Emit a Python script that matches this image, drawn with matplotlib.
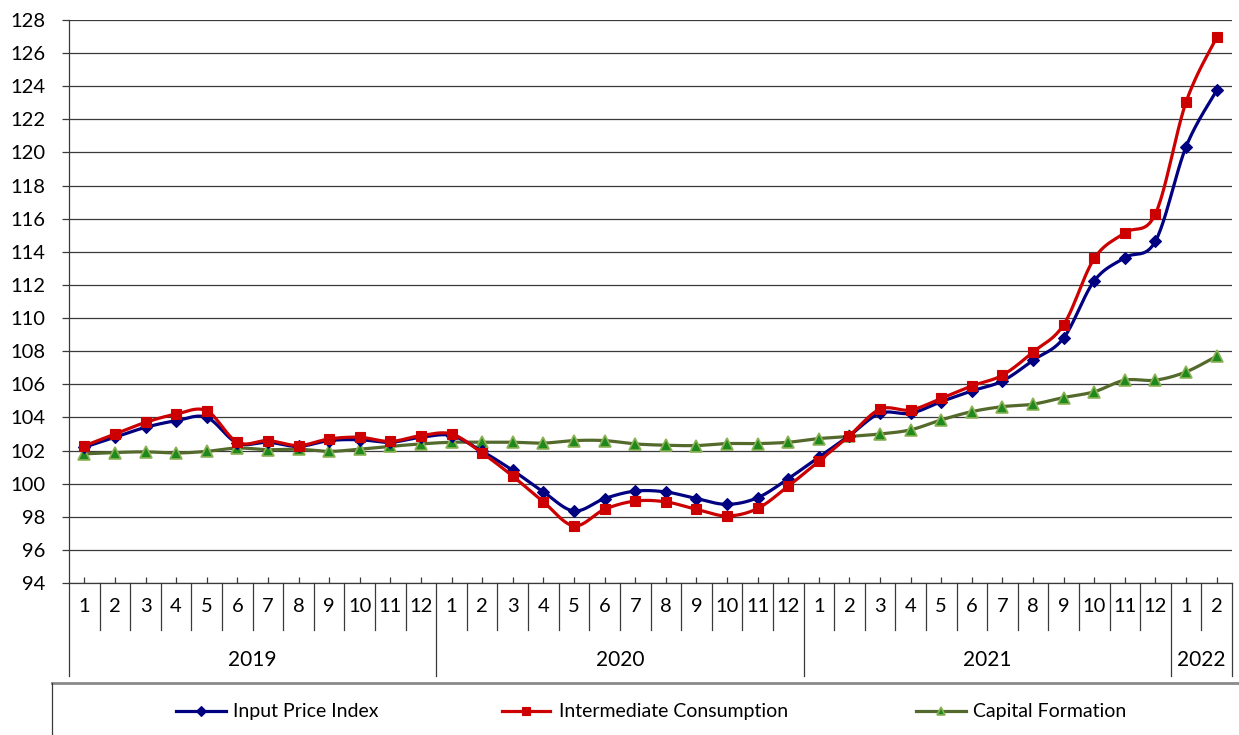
import numpy as np
import matplotlib
matplotlib.use('Agg')
import matplotlib.pyplot as plt
from matplotlib.lines import Line2D

# ---------------- data ----------------
months = [str(m) for m in range(1, 13)] * 3 + ['1', '2']
years = ['2019', '2020', '2021', '2022']
year_counts = [12, 12, 12, 2]

input_price = [102.2, 102.8, 103.4, 103.8, 104.0, 102.45, 102.5, 102.25, 102.6, 102.65, 102.5, 102.8,
               102.9, 101.95, 100.8, 99.5, 98.35, 99.1, 99.55, 99.5, 99.1, 98.75, 99.15, 100.3,
               101.6, 102.9, 104.25, 104.25, 104.95, 105.6, 106.2, 107.45, 108.8, 112.25, 113.65, 114.65,
               120.35, 123.75]
intermediate = [102.28, 103.0, 103.7, 104.2, 104.4, 102.5, 102.6, 102.3, 102.7, 102.8, 102.55, 102.9,
                103.0, 101.85, 100.45, 98.9, 97.45, 98.45, 98.95, 98.9, 98.45, 98.05, 98.5, 99.85,
                101.35, 102.9, 104.5, 104.45, 105.15, 105.9, 106.55, 107.95, 109.6, 113.6, 115.15, 116.3,
                123.05, 126.95]
capital = [101.8, 101.88, 101.92, 101.85, 101.95, 102.15, 102.05, 102.08, 101.95, 102.08, 102.25, 102.4,
           102.5, 102.5, 102.5, 102.45, 102.6, 102.6, 102.4, 102.32, 102.3, 102.42, 102.42, 102.5,
           102.72, 102.85, 103.0, 103.25, 103.85, 104.35, 104.65, 104.8, 105.2, 105.55, 106.25, 106.25,
           106.75, 107.7]
series_names = ['Input Price Index', 'Intermediate Consumption', 'Capital Formation']
y_ticks = list(range(94, 129, 2))

FONT = 'Lato'
W, H = 1239, 735


def smooth(ys, n=24):
    """Catmull-Rom style Bezier smoothing through all points (Excel-like)."""
    pts = np.column_stack([np.arange(len(ys), dtype=float), np.asarray(ys, float)])
    out = []
    t = np.linspace(0, 1, n)[:, None]
    for i in range(len(pts) - 1):
        p0 = pts[i - 1] if i > 0 else pts[i]
        p1 = pts[i]
        p2 = pts[i + 1]
        p3 = pts[i + 2] if i + 2 < len(pts) else pts[i + 1]
        c1 = p1 + (p2 - p0) / 6.0
        c2 = p2 - (p3 - p1) / 6.0
        seg = ((1 - t) ** 3) * p1 + 3 * ((1 - t) ** 2) * t * c1 + 3 * (1 - t) * t ** 2 * c2 + t ** 3 * p2
        out.append(seg if i == 0 else seg[1:])
    seg = np.vstack(out)
    return seg[:, 0], seg[:, 1]


fig = plt.figure(figsize=(W / 100, H / 100), dpi=100)
ax = fig.add_axes([69 / W, (H - 583) / H, 1163 / W, 563 / H])

styles = [
    dict(color='#000080', marker='D', ms=6, mfc='#000080', mec='#000080', mew=0.8),
    dict(color='#CC0000', marker='s', ms=6.5, mfc='#CC0000', mec='#CC0000', mew=0.8),
    dict(color='#546A2C', marker='^', ms=8, mfc='#1E8A1E', mec='#8DB255', mew=1.2),
]
x = np.arange(len(months))
for vals, st, z in zip([input_price, intermediate, capital], styles, [4, 5, 3]):
    sx, sy = smooth(vals)
    ax.plot(sx, sy, color=st['color'], lw=2.3, zorder=z, solid_capstyle='round')
    ax.plot(x, vals, ls='none', marker=st['marker'], ms=st['ms'], mfc=st['mfc'],
            mec=st['mec'], mew=st['mew'], zorder=z + 0.5)

ax.set_xlim(-0.5, len(months) - 0.5)
ax.set_ylim(94, 128)
ax.set_yticks(y_ticks)
ax.set_yticklabels([str(v) for v in y_ticks], fontsize=14.5, fontname=FONT)
for v in y_ticks:
    ax.axhline(v, color='#3a3a3a', lw=0.9, zorder=1)
ax.tick_params(axis='y', direction='out', length=5, width=0.9, pad=12, color='#3a3a3a')
ax.set_xticks(x)
ax.tick_params(axis='x', direction='in', length=4, width=0.9, labelbottom=False, color='#3a3a3a')
for s in ['top', 'right']:
    ax.spines[s].set_visible(False)
ax.spines['left'].set_color('#3a3a3a')
ax.spines['bottom'].set_color('#3a3a3a')
ax.spines['left'].set_linewidth(0.9)
ax.spines['bottom'].set_linewidth(0.9)

# ---------------- category axis boxes ----------------
tr = ax.get_xaxis_transform()
px = 1 / 563.0
month_sep_bottom = -47 * px
year_sep_bottom = -93 * px
for i, m in enumerate(months):
    ax.text(i, -24 * px, m, transform=tr, ha='center', va='center', fontsize=14.5, fontname=FONT)
boundaries = np.cumsum([0] + year_counts)
year_bounds = set(boundaries.tolist())
for b in range(len(months) + 1):
    yb = year_sep_bottom if b in year_bounds else month_sep_bottom
    ax.plot([b - 0.5, b - 0.5], [0, yb], transform=tr, color='#3a3a3a', lw=0.9, clip_on=False)
for yr, s, e in zip(years, boundaries[:-1], boundaries[1:]):
    ax.text((s + e - 1) / 2, -77 * px, yr, transform=tr, ha='center', va='center',
            fontsize=15, fontname=FONT)

# ---------------- legend box ----------------
def fx(p):
    return p / W


def fy(p):
    return 1 - p / H


fig.add_artist(Line2D([fx(52), fx(W)], [fy(683), fy(683)], transform=fig.transFigure,
                      color='#8a8a8a', lw=2))
fig.add_artist(Line2D([fx(52), fx(52)], [fy(683), fy(H + 5)], transform=fig.transFigure,
                      color='#3a3a3a', lw=0.9))
legend_pos = [(176, 226, 233), (502, 550, 559), (916, 966, 973)]
for (x0, x1, tx), st, name in zip(legend_pos, styles, series_names):
    fig.add_artist(Line2D([fx(x0), fx(x1)], [fy(711), fy(711)], transform=fig.transFigure,
                          color=st['color'], lw=2.3))
    fig.add_artist(Line2D([fx((x0 + x1) / 2)], [fy(711)], transform=fig.transFigure, ls='none',
                          marker=st['marker'], ms=st['ms'] * 0.8, mfc=st['mfc'], mec=st['mec'],
                          mew=st['mew']))
    fig.text(fx(tx), fy(711), name, ha='left', va='center', fontsize=14, fontname=FONT)

fig.savefig('out.png', dpi=100)
